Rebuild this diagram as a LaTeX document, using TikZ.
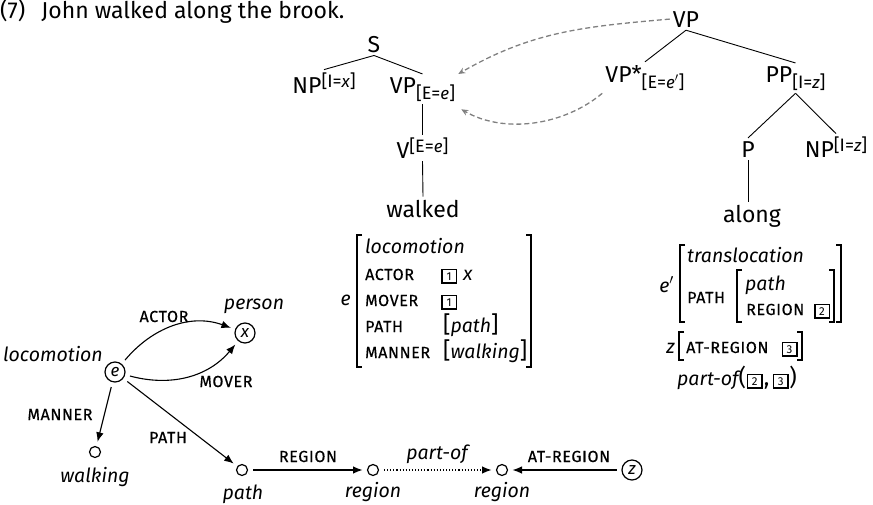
\documentclass[tikz,border=0pt]{standalone}
\usepackage{fontspec}
\setmainfont{Fira Sans}
\usetikzlibrary{arrows.meta,calc}

% text sizes: upright labels, italic sort names, feature names, annotations
\newcommand\bigsz{\fontsize{23}{27}\selectfont}
\newcommand\itsz{\fontsize{19.5}{23}\selectfont\itshape}
\newcommand\featsz{\fontsize{16}{17}\selectfont\addfontfeatures{LetterSpace=4,FakeBold=0.5}}
\newcommand\annsz{\fontsize{18}{18}\selectfont}
% raised / lowered feature annotations on tree labels
\newcommand\supx[1]{\raisebox{5.5pt}{\annsz #1}}
\newcommand\subx[1]{\raisebox{-6pt}{\annsz #1}}
\newcommand\vr[1]{{\fontsize{17}{17}\selectfont\itshape #1}}

\tikzset{
  tl/.style={anchor=base, inner sep=3pt, font=\bigsz},
  branch/.style={line width=0.9pt},
  link/.style={draw=black!50, line width=1.3pt, dash pattern=on 5pt off 3pt,
    -{Stealth[length=7pt,width=6pt]}},
  avm/.style={anchor=base west, inner sep=0, font=\bigsz},
  avmi/.style={anchor=base west, inner sep=0, font=\itsz},
  avmf/.style={anchor=base west, inner sep=0, font=\featsz},
  avmr/.style={anchor=base east, inner sep=0, font=\itsz},
  tag/.style={draw, line width=1.5pt, minimum width=14.5pt, minimum height=13.5pt,
    inner sep=0, anchor=base, font=\fontsize{11.5}{12}\selectfont},
  brk/.style={line width=1.1pt},
  circ/.style={circle, draw, line width=1.2pt, minimum size=20pt, inner sep=0,
    outer sep=3.5pt, font=\fontsize{17}{17}\selectfont\itshape},
  dot/.style={circle, draw, line width=1.2pt, minimum size=11pt, inner sep=0,
    outer sep=3.5pt},
  garrow/.style={-{Latex[length=9.5pt,width=7.5pt]}, line width=1.1pt,
    shorten <=2pt, shorten >=1.5pt},
  elab/.style={anchor=base, inner sep=0, font=\featsz},
  glab/.style={anchor=base, inner sep=0, font=\itsz},
}

\begin{document}
\begin{tikzpicture}[x=1pt,y=1pt]
\useasboundingbox (0,0) rectangle (873,-504);

\node[avm] (title) at (0,-18) {(7)\hspace{0.7em}John walked along the brook.};

% --- tree for "John walked"
\node[tl] (s) at (374,-52) {S};
\node[tl] (np1) at (324,-93) {NP\supx{[I=\vr{x}]}};
\node[tl] (vpe) at (422.5,-93) {VP\subx{[E=\vr{e}]}};
\node[tl] (ve) at (422.5,-158) {V\supx{[E=\vr{e}]}};
\node[tl] (walked) at (423,-217) {walked};
\draw[branch] (s.south) -- (np1.north);
\draw[branch] (s.south) -- (vpe.north);
\draw[branch] (vpe.south) -- (ve.north);
\draw[branch] (ve.south) -- (walked.north);

% --- auxiliary tree for "along"
\node[tl] (vp2) at (686,-27) {VP};
\node[tl] (vpstar) at (645,-82) {VP*\subx{[E=\vr{e}$'$]}};
\node[tl] (pp) at (795.5,-82) {PP\subx{[I=\vr{z}]}};
\node[tl] (p) at (748,-157) {P};
\node[tl] (np2) at (836,-157) {NP\supx{[I=\vr{z}]}};
\node[tl] (along) at (752,-222) {along};
\draw[branch] (vp2.south) -- (vpstar.north);
\draw[branch] (vp2.south) -- (pp.north);
\draw[branch] (pp.south) -- (p.north);
\draw[branch] (pp.south) -- (np2.north);
\draw[branch] (p.south) -- (p.south |- along.north);

% --- adjunction links
\draw[link] (vp2.west) to[out=185,in=30] (vpe.north east);
\draw[link] (vpstar.south west) to[out=-140,in=-30,looseness=0.9]
  ($(vpe.south east)+(3,-5)$);

% --- semantics of "walked"
\node[avmr] (e1) at (351,-305) {e};
\draw[brk] (362,-235) -- (357,-235) -- (357,-367) -- (362,-367);
\draw[brk] (526,-235) -- (531,-235) -- (531,-367) -- (526,-367);
\node[avmi] (loco) at (365,-253) {locomotion};
\node[avmf] (actor) at (365,-280) {ACTOR};
\node[avmf] (mover) at (365,-306) {MOVER};
\node[avmf] (pathf) at (365,-332) {PATH};
\node[avmf] (manner) at (365,-358) {MANNER};
\node[tag] (t1a) at (449,-280) {1};
\node[avmi, anchor=base west] (actx) at ($(t1a.base east)+(6,0)$) {x};
\node[tag] (t1b) at (449,-306) {1};
\node[avm] (pathv) at (443,-332) {[{\itsz path}]};
\node[avm] (mannv) at (443,-358) {[{\itsz walking}]};

% --- semantics of "along"
\node[avmr] (e2) at (674,-292) {e$'$};
\draw[brk] (685,-245) -- (680,-245) -- (680,-322) -- (685,-322);
\draw[brk] (836,-245) -- (841,-245) -- (841,-322) -- (836,-322);
\node[avmi] (transl) at (687,-262) {translocation};
\node[avmf] (pathf2) at (687,-303) {PATH};
\draw[brk] (742,-270) -- (737,-270) -- (737,-322) -- (742,-322);
\draw[brk] (829,-270) -- (834,-270) -- (834,-322) -- (829,-322);
\node[avmi] (pathv2) at (745,-290) {path};
\node[avmf] (regf) at (746,-315) {REGION};
\node[tag] (t2) at (822,-315) {2};
\node[avmr] (zl) at (675,-353) {z};
\draw[brk] (684,-332) -- (679,-332) -- (679,-360) -- (684,-360);
\draw[brk] (797,-332) -- (802,-332) -- (802,-360) -- (797,-360);
\node[avmf] (atreg) at (686,-353) {AT-REGION};
\node[tag] (t3) at (789.5,-353) {3};
\node[avmi] (pofa) at (677,-385) {part-of\upshape\bigsz(};
\node[tag, anchor=base west] (t2p) at ($(pofa.base east)+(0.5,0)$) {2};
\node[avm] (pofb) at ($(t2p.base east)+(1,0)$) {,};
\node[tag, anchor=base west] (t3p) at ($(pofb.base east)+(3,0)$) {3};
\node[avm] (pofc) at ($(t3p.base east)+(0.5,0)$) {)};

% --- semantic graph
\node[circ] (e) at (115,-372) {e};
\node[circ] (x) at (245,-333) {x};
\node[circ] (z) at (632,-470) {z};
\node[dot] (walkdot) at (95,-452) {};
\node[dot] (pathdot) at (242,-470) {};
\node[dot] (reg1) at (373,-470) {};
\node[dot] (reg2) at (502,-470) {};

\node[glab, anchor=base east] (locol) at (103,-361) {locomotion};
\node[glab] (personl) at (254,-309) {person};
\node[glab] (walkl) at (95,-482) {walking};
\node[glab] (pathl) at (243,-499) {path};
\node[glab] (reg1l) at (373,-497) {region};
\node[glab] (reg2l) at (502,-497) {region};

\draw[garrow] (e) to[out=50,in=160] (x);
\draw[garrow] (e) to[out=-15,in=-130] (x);
\draw[garrow] (e) -- (walkdot);
\draw[garrow] (e) -- (pathdot);
\draw[garrow] (pathdot) -- (reg1);
\draw[garrow, dotted] (reg1) -- (reg2);
\draw[garrow] (z) -- (reg2);

\node[elab] (actorl) at (164,-322) {ACTOR};
\node[elab] (moverl) at (226,-387) {MOVER};
\node[elab] (mannerl) at (60,-420) {MANNER};
\node[elab] (pathel) at (168,-443) {PATH};
\node[elab] (regl) at (308,-462) {REGION};
\node[glab] (partl) at (437,-459) {part-of};
\node[elab] (atregl) at (569,-462) {AT-REGION};
\end{tikzpicture}
\end{document}
